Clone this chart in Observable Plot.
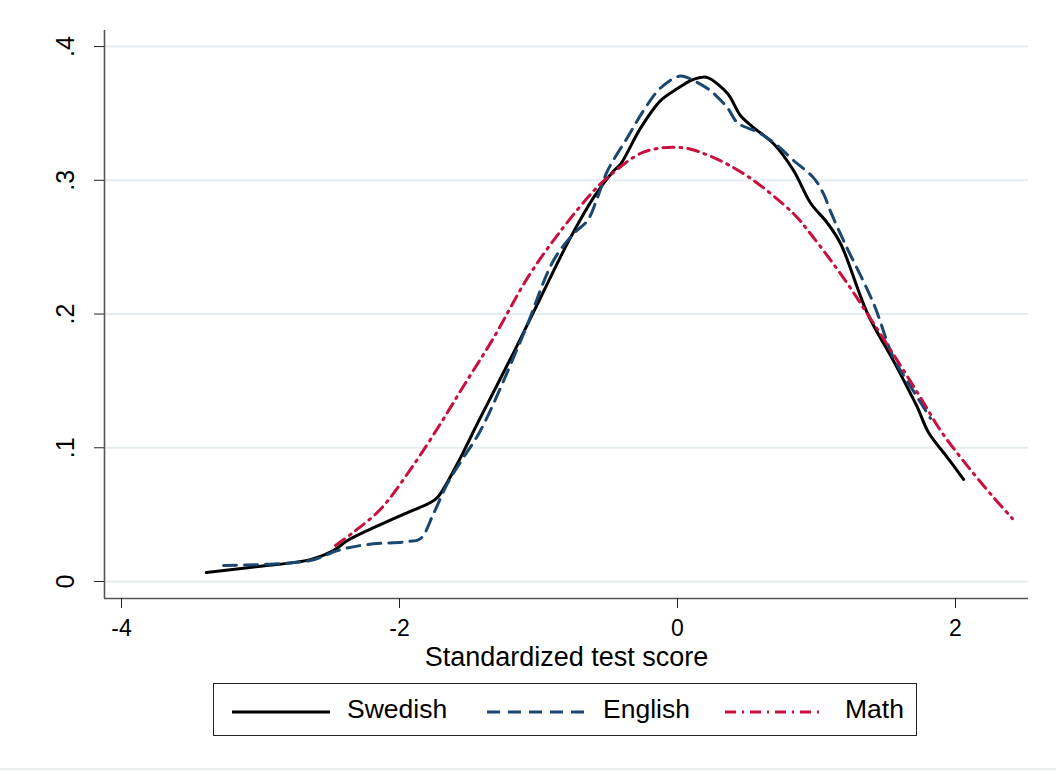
<!DOCTYPE html>
<html><head><meta charset="utf-8">
<script src="https://cdn.jsdelivr.net/npm/d3@7"></script>
<script src="https://cdn.jsdelivr.net/npm/@observablehq/plot@0.6"></script>
<style>
body{margin:0;background:#fff;font-family:"Liberation Sans",Arial,sans-serif;}
#wrap{position:relative;width:1056px;height:771px;overflow:hidden;background:#fff;}
#legend{position:absolute;left:213px;top:683px;width:702px;height:51px;border:1px solid #222;font-size:26.5px;color:#000;}
.sw{position:absolute;top:0;height:51px;}
.lt{position:absolute;top:0;line-height:51px;white-space:nowrap;}
#bottomline{position:absolute;left:0;top:768px;width:1056px;height:2px;background:#e8eef0;}
</style></head><body>
<div id="wrap"><div id="chart"></div><div id="legend"></div><div id="bottomline"></div></div>
<script>
// ---- data ----
const seriesNames = ["Swedish", "English", "Math"];
const seriesColors = ["#000000", "#1a476f", "#c8103c"];
const seriesDash = [null, "13,8", "11,6,2,6"];

const xTicks = [-4, -2, 0, 2];
const xTickLabels = ["-4", "-2", "0", "2"];
const yTicks = [0, 0.1, 0.2, 0.3, 0.4];
const yTickLabels = ["0", ".1", ".2", ".3", ".4"];
const xTitle = "Standardized test score";

const swedishScore = [-3.39, -3.02, -2.64, -2.475, -2.374, -2.137, -1.942, -1.791, -1.727, -1.583, -1.511, -1.44, -1.18, -0.986, -0.791, -0.604, -0.46, -0.41, -0.266, -0.122, 0.0, 0.094, 0.165, 0.216, 0.36, 0.453, 0.547, 0.69, 0.835, 0.957, 1.079, 1.173, 1.367, 1.554, 1.676, 1.727, 1.806, 1.942, 2.058];
const swedishDensity = [0.0067, 0.0112, 0.0164, 0.0232, 0.0307, 0.0426, 0.0516, 0.0583, 0.0628, 0.0882, 0.103, 0.118, 0.171, 0.212, 0.253, 0.287, 0.307, 0.312, 0.339, 0.3596, 0.3686, 0.3746, 0.3768, 0.3768, 0.3649, 0.3484, 0.3394, 0.3275, 0.3073, 0.283, 0.268, 0.2527, 0.2004, 0.165, 0.1406, 0.130, 0.1114, 0.0927, 0.0763];

const englishScore = [-3.266, -2.64, -2.446, -2.23, -1.942, -1.849, -1.755, -1.655, -1.54, -1.417, -1.108, -0.892, -0.748, -0.647, -0.576, -0.504, -0.36, -0.245, -0.122, 0.022, 0.115, 0.237, 0.36, 0.432, 0.597, 0.719, 0.835, 0.978, 1.05, 1.1, 1.194, 1.41, 1.554, 1.727, 1.82];
const englishDensity = [0.012, 0.0157, 0.0232, 0.0277, 0.0299, 0.0321, 0.0508, 0.0733, 0.0927, 0.1129, 0.185, 0.24, 0.26, 0.270, 0.287, 0.307, 0.332, 0.352, 0.369, 0.378, 0.3746, 0.367, 0.354, 0.343, 0.335, 0.326, 0.3148, 0.302, 0.29, 0.277, 0.255, 0.208, 0.1675, 0.1376, 0.122];

const mathScore = [-2.46, -2.33, -2.137, -1.9, -1.705, -1.54, -1.324, -1.079, -0.842, -0.604, -0.504, -0.245, 0.022, 0.237, 0.504, 0.835, 0.957, 1.194, 1.367, 1.583, 1.748, 1.892, 2.058, 2.273, 2.41];
const mathDensity = [0.027, 0.037, 0.054, 0.087, 0.118, 0.146, 0.182, 0.227, 0.262, 0.292, 0.302, 0.321, 0.3245, 0.318, 0.303, 0.275, 0.26, 0.227, 0.2, 0.165, 0.1376, 0.113, 0.090, 0.063, 0.047];

const xDomain = [-4.1223, 2.5252];
const yDomain = [-0.0127, 0.412];

const toRows = (xs, ys) => xs.map((x, i) => ({x, y: ys[i]}));
const seriesRows = [toRows(swedishScore, swedishDensity), toRows(englishScore, englishDensity), toRows(mathScore, mathDensity)];

const font = '"Liberation Sans", Arial, sans-serif';

const chart = Plot.plot({
  width: 1056,
  height: 670,
  marginLeft: 104,
  marginRight: 28,
  marginTop: 30,
  marginBottom: 72,
  x: {domain: xDomain},
  y: {domain: yDomain},
  style: {fontFamily: font, fontSize: "24px", color: "#000", background: "#fff", overflow: "visible"},
  marks: [
    Plot.gridY(yTicks, {stroke: "#e4ecef", strokeOpacity: 1, strokeWidth: 2}),
    Plot.ruleX([xDomain[0]], {stroke: "#555", strokeWidth: 1.6}),
    Plot.ruleY([yDomain[0]], {stroke: "#555", strokeWidth: 1.6}),
    Plot.axisY({ticks: yTicks, tickSize: 10, tickFormat: () => "", label: null, stroke: "#222"}),
    Plot.text(yTicks, {y: d => d, text: (d, i) => yTickLabels[i], frameAnchor: "left", rotate: -90, dx: -31, lineAnchor: "bottom", textAnchor: "middle", fontSize: 25, fill: "#000"}),
    Plot.axisX({ticks: xTicks, tickSize: 10, tickPadding: 11, tickFormat: (d) => xTickLabels[xTicks.indexOf(d)], label: null, fontSize: 23, stroke: "#222"}),
    Plot.text([xTitle], {frameAnchor: "bottom", dy: 48, lineAnchor: "top", text: d => d, fontSize: 27, fill: "#000"}),
    ...seriesRows.map((rows, i) => Plot.line(rows, {
      x: "x", y: "y", stroke: seriesColors[i], strokeWidth: 3,
      strokeDasharray: seriesDash[i] || undefined, curve: "catmull-rom"
    }))
  ]
});
document.getElementById("chart").appendChild(chart);

// legend
const legend = document.getElementById("legend");
const swLeft = [18, 273, 511];
const txtLeft = [133, 389, 631];
seriesNames.forEach((name, i) => {
  const ns = "http://www.w3.org/2000/svg";
  const svg = document.createElementNS(ns, "svg");
  svg.setAttribute("width", 98); svg.setAttribute("height", 51);
  svg.setAttribute("class", "sw");
  svg.style.left = swLeft[i] + "px";
  const ln = document.createElementNS(ns, "line");
  ln.setAttribute("x1", 0); ln.setAttribute("x2", 98);
  ln.setAttribute("y1", 28); ln.setAttribute("y2", 28);
  ln.setAttribute("stroke", seriesColors[i]); ln.setAttribute("stroke-width", 3);
  if (seriesDash[i]) ln.setAttribute("stroke-dasharray", seriesDash[i]);
  svg.appendChild(ln);
  legend.appendChild(svg);
  const t = document.createElement("span");
  t.className = "lt"; t.textContent = name; t.style.left = txtLeft[i] + "px";
  legend.appendChild(t);
});
</script>
</body></html>
